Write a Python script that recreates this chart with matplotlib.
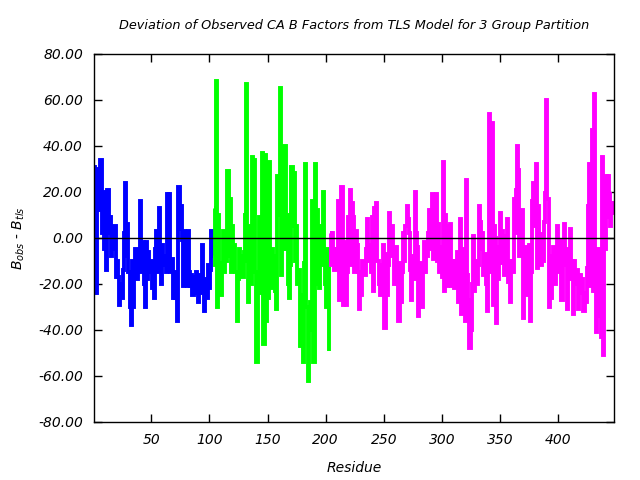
import numpy as np
import matplotlib
matplotlib.use('Agg')
import matplotlib.pyplot as plt
from matplotlib.ticker import FormatStrFormatter

# valores (B_obs - B_tls por residuo)
blue_start = 1
blue_vals = [
    31, -21, -24, 19, 30, 12, 34, 2, 20, -5,
    19, -14, 21, 2, 9, -8, 3, -5, 5, -17,
    -10, -17, -29, -20, -26, -14, 2, 24, -8, 6,
    -15, -30, -38, -10, -30, -12, -5, -18, -8, -14,
    16, -15, -2, -20, -30, -2, -18, -6, -15, -10,
    -22, -12, -26, -5, 3, -15, 13, -5, -20, -3,
    -12, -8, -15, 19, -5, 19, -15, -9, -26, -15,
    -26, -26, -36, 22, 4, 14, -1, -21, 3, -10,
    -21, 3, -15, -21, -16, -25, -17, -24, -15, -22,
    -28, -16, -24, -3, -20, -32, -18, -26, -12, -22,
    -14, 3, -8,
]

green_start = 104
green_vals = [
    13, -12, 68, -30, 10, -11, -25, -14, 3, -15,
    0, -10, 29, -8, 17, -15, 5, -12, -3, -15,
    -36, -18, -5, -16, -8, -17, -6, 10, 67, -10,
    -28, 5, -20, 35, -5, 34, -15, -54, -20, 9,
    -24, 0, 37, -46, 36, -36, 5, -26, 33, -22,
    -5, -18, -8, -23, -31, 27, 10, 65, -16, 31,
    -5, 40, -5, 10, -20, -26, -12, 31, 5, 28,
    -10, 5, -20, -14, -47, -25, -40, -54, -11, 32,
    -30, -62, -35, -28, -40, 16, -54, 32, -20, 12,
    -5, -22, 5, -12, 20, -10, -20, -30, -5, -49,
]

magenta_start = 204
magenta_vals = [
    2, -12, 2, -5, -14, -8, -5, 16, -27, 5,
    22, -29, -10, -2, -29, -15, 9, 21, -12, 15,
    9, -15, 3, -3, -15, -31, -17, -25, -10, -10,
    -16, -5, 8, -10, -3, -15, 9, -23, 13, -5,
    15, -10, -20, -25, -12, -18, -3, -39, -7, -25,
    -12, 11, -8, 5, -7, -20, -12, -4, -20, -36,
    -11, -28, -15, 2, -10, 5, 14, 8, 2, -14,
    -27, -8, -18, 20, 2, -4, -34, -20, -11, -30,
    -15, -2, -15, -8, 2, 12, 0, -5, 19, -9,
    15, 19, -10, 6, -15, -4, -17, 33, -23, 10,
    5, -21, -8, 6, -21, -10, -14, -22, -10, -6,
    -28, -15, 8, -33, -12, -5, -36, 25, -16, -27,
    -48, -40, -20, 1, -23, -10, -20, -12, 14, 7,
    -5, 2, -16, -7, -20, -32, -10, 54, -15, 50,
    -29, 5, 0, -37, -18, -4, 11, -11, 3, 1,
    -16, -5, 8, -19, -10, -28, -10, -15, 17, 2,
    21, 40, 29.5, -8, -2, 12, -35, -20, -4, -25,
    -12, -3, -36, -15, 16, 24, 5, 32, -13, 14,
    -5, -12, 1.5, -10, 7, 19.5, 60, 17, -30, -12,
    -26, -8, -4, -20, -10, 5, -15, -6, -1, -27,
    -12, 6, -12, -5, -31, -10, 4, -18, -10, -33,
    -10, -20, -14, -31, -20, -16, -24, -18, -32, -24,
    -28, -13, 14, 32, -21, 47, -23, 62.5, -23, -41,
    -5, -34, -15, -43, 35, -51, -5, 27, 9, 27,
    19, 5, 11, 16,
]

x_ticks = [50, 100, 150, 200, 250, 300, 350, 400]
y_ticks = [-80, -60, -40, -20, 0, 20, 40, 60, 80]

fig = plt.figure(figsize=(6.4, 4.8), dpi=100)
ax = fig.add_axes([0.147, 0.121, 0.812, 0.767])

# linha do zero por cima das curvas, como no original
ax.axhline(0, color='black', lw=1.0, zorder=3)

segmentos = [
    (blue_start, blue_vals, '#0000ff'),
    (green_start, green_vals, '#00ff00'),
    (magenta_start, magenta_vals, '#ff00ff'),
]
for inicio, vals, cor in segmentos:
    res = np.arange(inicio, inicio + len(vals))
    ax.plot(res, vals, color=cor, lw=2.8, drawstyle='steps-mid', zorder=2,
            solid_capstyle='butt', solid_joinstyle='miter')

ax.set_xlim(1, 447.5)
ax.set_ylim(-80, 80)
ax.set_xticks(x_ticks)
ax.set_yticks(y_ticks)
ax.yaxis.set_major_formatter(FormatStrFormatter('%.2f'))
ax.tick_params(direction='in', top=True, right=True, length=6, width=1, labelsize=10, pad=8)
for lab in ax.get_xticklabels() + ax.get_yticklabels():
    lab.set_fontstyle('italic')
for s in ax.spines.values():
    s.set_linewidth(1)

ax.set_title('Deviation of Observed CA B Factors from TLS Model for 3 Group Partition',
             fontsize=9.3, fontstyle='italic', pad=18)
ax.set_xlabel('Residue', fontsize=10, fontstyle='italic', labelpad=10)
ax.set_ylabel(r'$B_{obs}$ - $B_{tls}$', fontsize=10, labelpad=8)

fig.savefig('out.png', dpi=100)
